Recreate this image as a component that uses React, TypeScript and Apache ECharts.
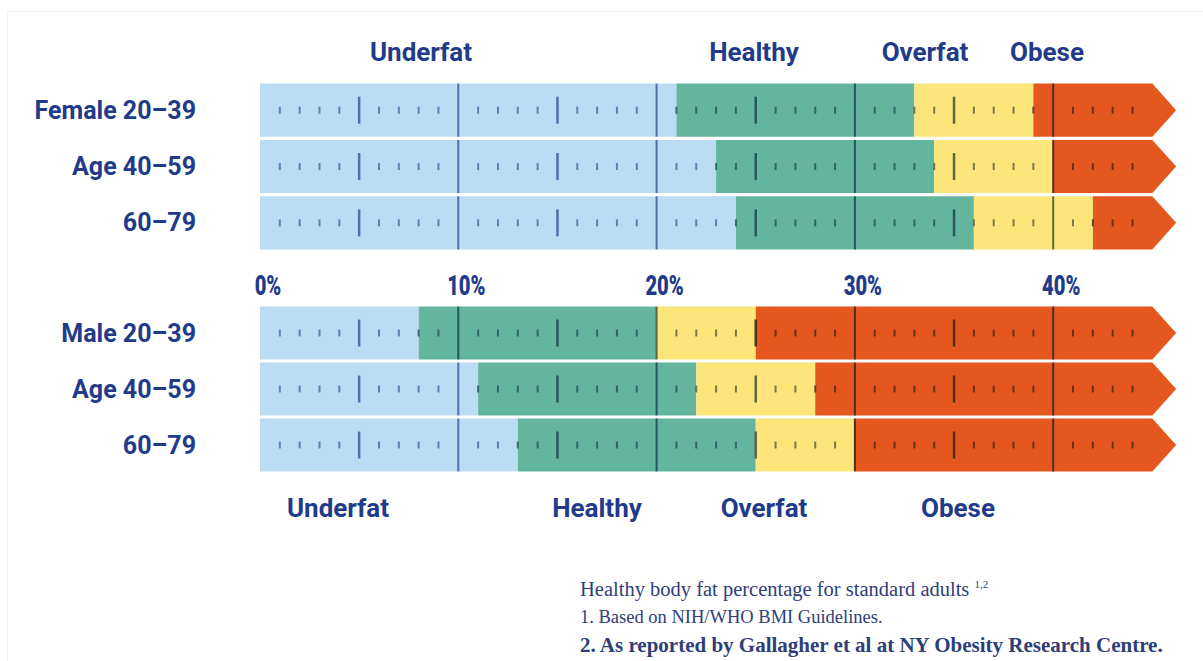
import React, { useEffect, useRef } from "react";
import * as echarts from "echarts";

// Body-fat bands: upper bound (%) of each zone per age group
const femaleRows = ["Female 20–39", "Age 40–59", "60–79"];
const femaleUnderfatMax = [21, 23, 24];
const femaleHealthyMax = [33, 34, 36];
const femaleOverfatMax = [39, 40, 42];

const maleRows = ["Male 20–39", "Age 40–59", "60–79"];
const maleUnderfatMax = [8, 11, 13];
const maleHealthyMax = [20, 22, 25];
const maleOverfatMax = [25, 28, 30];

const zoneNames = ["Underfat", "Healthy", "Overfat", "Obese"];
const zoneColors = ["#bcdcf3", "#63b59e", "#fce57b", "#e4571f"];
const tickColors = ["#4a69a4", "#24525c", "#55603f", "#4a2a1a"];

const scaleMax = 47; // axis extent
const barEnd = 45; // where the obese band stops before the arrow head
const arrowTip = 46.2;
const tickLabels = [0, 10, 20, 30, 40];

const NAVY = "#213a8a";
const SANS = "Roboto, 'Noto Sans', sans-serif";
const SERIF = "'Liberation Serif', 'DejaVu Serif', serif";
const FOOT = "#2e3e78";

function rowData(u: number[], h: number[], o: number[]) {
  return u.map((_, i) => [i, u[i], h[i], o[i]]);
}

function renderRow(params: any, api: any) {
  const row = api.value(0);
  const bounds = [0, api.value(1), api.value(2), api.value(3), barEnd];
  const center = api.coord([0, row]);
  const cy = center[1];
  const bandH = api.size([0, 1])[1];
  const h = bandH - 3.2;
  const top = cy - h / 2;
  const bottom = cy + h / 2;
  const px = (v: number) => api.coord([v, row])[0];
  const children: any[] = [];

  for (let z = 0; z < 3; z++) {
    const x0 = px(bounds[z]);
    const x1 = px(bounds[z + 1]);
    children.push({
      type: "rect",
      shape: { x: x0, y: top, width: x1 - x0, height: h },
      style: { fill: zoneColors[z] },
    });
  }
  const ox = px(bounds[3]);
  const ex = px(barEnd);
  const tx = px(arrowTip);
  children.push({
    type: "polygon",
    shape: {
      points: [
        [ox, top],
        [ex, top],
        [tx, cy],
        [ex, bottom],
        [ox, bottom],
      ],
    },
    style: { fill: zoneColors[3] },
  });

  // scale ticks: every 1%, medium every 5%, full height every 10%
  for (let t = 1; t < barEnd; t++) {
    let zone = 0;
    while (zone < 3 && t >= bounds[zone + 1]) zone++;
    const x = px(t);
    let len = 7;
    let w = 2;
    if (t % 10 === 0) {
      len = h;
      w = 2;
    } else if (t % 5 === 0) {
      len = 27;
      w = 2.5;
    }
    children.push({
      type: "line",
      shape: { x1: x, y1: cy - len / 2, x2: x, y2: cy + len / 2 },
      style: {
        stroke: tickColors[zone],
        lineWidth: w,
        opacity: t % 5 === 0 ? 0.95 : 0.8,
      },
    });
  }
  return { type: "group", children };
}

function zoneLabel(text: string, x: number, y: number) {
  return {
    type: "text",
    x,
    y,
    style: {
      text,
      fill: NAVY,
      font: `bold 26px ${SANS}`,
      align: "center",
      verticalAlign: "middle",
    },
  };
}

function footLine(text: string, y: number, font: string) {
  return {
    type: "text",
    x: 580,
    y,
    style: { text, fill: FOOT, font, verticalAlign: "middle" },
  };
}

export default function App() {
  const ref = useRef<HTMLDivElement>(null);

  useEffect(() => {
    document.body.style.margin = "0";
    if (!ref.current) return;
    const chart = echarts.init(ref.current, undefined, { renderer: "svg" });

    const categoryAxis = (gridIndex: number, data: string[]) => ({
      type: "category",
      gridIndex,
      data,
      inverse: true,
      axisLine: { show: false },
      axisTick: { show: false },
      splitLine: { show: false },
      axisLabel: {
        margin: 64,
        color: NAVY,
        fontSize: 25,
        fontWeight: "bold",
        fontFamily: SANS,
        padding: [4, 0, 0, 0],
      },
    });

    chart.setOption({
      animation: false,
      backgroundColor: "#ffffff",
      grid: [
        { left: 260, top: 82, width: 932, height: 169 },
        { left: 260, top: 305, width: 932, height: 168 },
      ],
      xAxis: [
        {
          type: "value",
          gridIndex: 0,
          min: 0,
          max: scaleMax,
          interval: 10,
          axisLine: { show: false },
          axisTick: { show: false },
          splitLine: { show: false },
          axisLabel: { show: false },
        },
        {
          type: "value",
          gridIndex: 1,
          min: 0,
          max: scaleMax,
          show: false,
          splitLine: { show: false },
        },
      ],
      yAxis: [categoryAxis(0, femaleRows), categoryAxis(1, maleRows)],
      series: [
        {
          type: "custom",
          name: "Female",
          xAxisIndex: 0,
          yAxisIndex: 0,
          renderItem: renderRow,
          data: rowData(femaleUnderfatMax, femaleHealthyMax, femaleOverfatMax),
          encode: { x: [1, 2, 3], y: 0 },
          clip: false,
          silent: true,
        },
        {
          type: "custom",
          name: "Male",
          xAxisIndex: 1,
          yAxisIndex: 1,
          renderItem: renderRow,
          data: rowData(maleUnderfatMax, maleHealthyMax, maleOverfatMax),
          encode: { x: [1, 2, 3], y: 0 },
          clip: false,
          silent: true,
        },
      ],
    });

    // Percent scale labels placed through the axis scale, drawn condensed
    const percentLabels = tickLabels.map((v) => {
      const x = chart.convertToPixel({ xAxisIndex: 0 }, v) as number;
      return {
        type: "text",
        x: x + 8,
        y: 285,
        scaleX: 0.72,
        style: {
          text: `${v}%`,
          fill: NAVY,
          font: `900 28px ${SANS}`,
          align: "center",
          verticalAlign: "middle",
        },
      };
    });

    chart.setOption({
      graphic: [
        {
          type: "rect",
          shape: { x: 7.5, y: 11.5, width: 1200, height: 660 },
          style: { fill: "none", stroke: "#eef6f6", lineWidth: 1 },
          silent: true,
        },
        ...percentLabels,
        zoneLabel(zoneNames[0], 421, 52),
        zoneLabel(zoneNames[1], 754, 52),
        zoneLabel(zoneNames[2], 925, 52),
        zoneLabel(zoneNames[3], 1047, 52),
        zoneLabel(zoneNames[0], 338, 508),
        zoneLabel(zoneNames[1], 597, 508),
        zoneLabel(zoneNames[2], 764, 508),
        zoneLabel(zoneNames[3], 958, 508),
        {
          type: "text",
          x: 580,
          y: 589,
          style: {
            text: "{a|Healthy body fat percentage for standard adults }{s|1,2}",
            verticalAlign: "middle",
            rich: {
              a: { fill: FOOT, font: `normal 20.5px ${SERIF}` },
              s: { fill: FOOT, font: `normal 11px ${SERIF}`, verticalAlign: "top" },
            },
          },
        },
        footLine("1. Based on NIH/WHO BMI Guidelines.", 617, `normal 18.5px ${SERIF}`),
        footLine(
          "2. As reported by Gallagher et al at NY Obesity Research Centre.",
          645,
          `bold 21px ${SERIF}`
        ),
      ],
    });

    return () => chart.dispose();
  }, []);

  return <div ref={ref} style={{ width: 1203, height: 661 }} />;
}
